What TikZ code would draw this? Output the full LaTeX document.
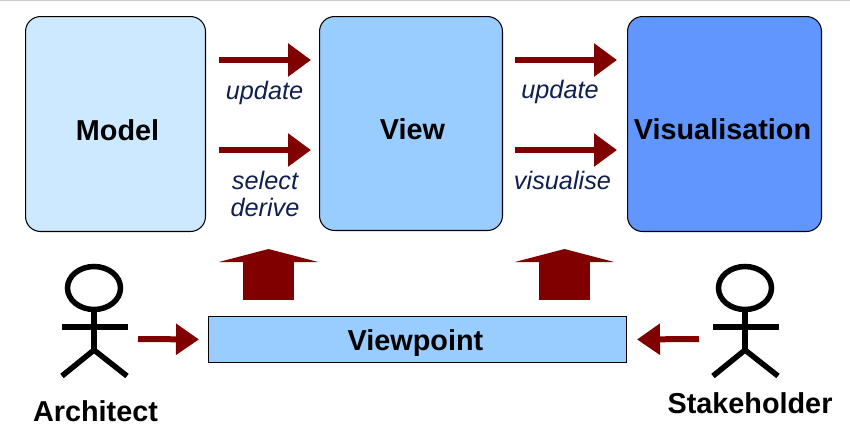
\documentclass[tikz,border=0pt]{standalone}
\usepackage{fontspec}
\setmainfont{Liberation Sans}
\usetikzlibrary{arrows.meta}
\definecolor{arrowred}{HTML}{800000}
\definecolor{verbblue}{HTML}{0F1F50}
\definecolor{modelblue}{HTML}{CCE9FF}
\definecolor{viewblue}{HTML}{99CCFF}
\definecolor{visblue}{HTML}{6196FF}
\tikzset{
    box/.style={draw,line width=0.6pt,rounded corners=0.3cm,anchor=north west,inner sep=0pt,font=\fontsize{16.4}{18}\selectfont\bfseries},
    verb/.style={font=\fontsize{14.4}{16}\selectfont\itshape,text=verbblue,inner sep=0pt},
    who/.style={font=\fontsize{16.4}{18}\selectfont\bfseries,inner sep=0pt},
    flow/.style={draw=arrowred,line width=0.13cm,-{Triangle[length=0.46cm,width=0.64cm]}},
    smallflow/.style={draw=arrowred,line width=0.12cm,-{Triangle[length=0.46cm,width=0.6cm]}},
    upflow/.style={draw=arrowred,line width=1.02cm,-{Triangle[length=0.26cm,width=1.98cm]}},
    stick/.style={line width=0.11cm}
}
% #1 moves the text sideways, #2 lowers it
\newcommand{\boxlabel}[3]{\hspace*{#1}\raisebox{#2}[0pt][0pt]{#3}}
\newcommand{\stickman}[1]{%
    \draw[stick] (#1,288) ellipse [x radius=26.5,y radius=21.5];
    \draw[stick] (#1,310)--(#1,350);
    \draw[stick] (#1-32,327)--(#1+34,327);
    \draw[stick] (#1-32,376)--(#1,350)--(#1+33,376);
}
\begin{document}
\begin{tikzpicture}[x=0.02cm,y=-0.02cm]
    \useasboundingbox (0,0) rectangle (850,427);
    \draw[gray!40,line width=1pt] (0,0.5)--(850,0.5);
    \node[box,fill=modelblue,minimum width=3.6cm,minimum height=4.3cm] (model) at (25,16) {\boxlabel{0.08cm}{-0.33cm}{Model}};
    \node[box,fill=viewblue,minimum width=3.66cm,minimum height=4.28cm] (view) at (319,16) {\boxlabel{0.06cm}{-0.31cm}{View}};
    \node[box,fill=visblue,minimum width=3.88cm,minimum height=4.3cm] (vis) at (627,16) {\boxlabel{-0.08cm}{-0.31cm}{Visualisation}};
    \node[box,rounded corners=0pt,fill=viewblue,minimum width=8.36cm,minimum height=0.92cm] (vp) at (208,316) {\boxlabel{-0.08cm}{-0.22cm}{Viewpoint}};
    % arrows between the boxes
    \coordinate (a) at (219,60); \coordinate (b) at (311,60);
    \coordinate (c) at (219,150); \coordinate (d) at (311,150);
    \coordinate (e) at (515,60); \coordinate (f) at (617,60);
    \coordinate (g) at (515,150); \coordinate (h) at (617,150);
    \draw[flow] (a)--(b);
    \draw[flow] (c)--(d);
    \draw[flow] (e)--(f);
    \draw[flow] (g)--(h);
    \node[verb] (up1) at (264.5,93) {update};
    \node[verb] (sel) at (265,180) {select};
    \node[verb] (der) at (265,207) {derive};
    \node[verb] (up2) at (560,92) {update};
    \node[verb] (visu) at (562.5,180) {visualise};
    % viewpoint acts on both steps
    \coordinate (p) at (268.5,300); \coordinate (q) at (268.5,249);
    \coordinate (r) at (564.5,300); \coordinate (s) at (564.5,249);
    \draw[upflow] (p)--(q);
    \draw[upflow] (r)--(s);
    % people
    \stickman{94}
    \stickman{745}
    \node[who] (arch) at (95.5,411) {Architect};
    \node[who] (stake) at (750,403) {Stakeholder};
    \coordinate (t) at (138,339); \coordinate (u) at (699,339);
    \draw[smallflow,shorten >=0.18cm] (t)--(vp.west);
    \draw[smallflow,shorten >=0.2cm] (u)--(vp.east);
\end{tikzpicture}
\end{document}
